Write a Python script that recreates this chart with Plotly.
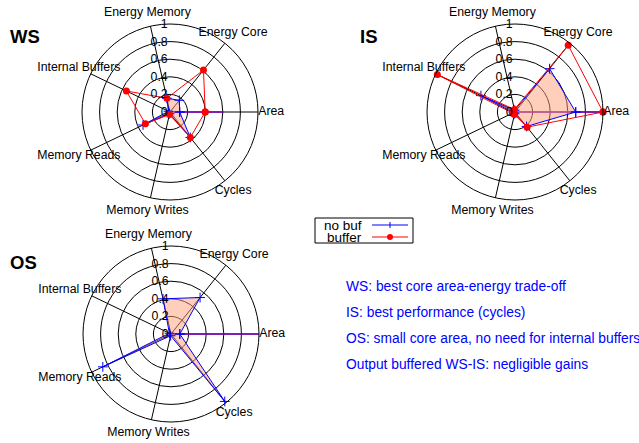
import plotly.graph_objects as go

W, H = 639, 443

categories = ["Area", "Energy Core", "Energy Memory", "Internal Buffers",
              "Memory Reads", "Memory Writes", "Cycles"]
radial_ticks = [0, 0.2, 0.4, 0.6, 0.8, 1.0]
radial_labels = ["0", "0.2", "0.4", "0.6", "0.8", "1"]

ws_nobuf = [0.11, 0.17, 0.16, 0.02, 0.34, 0.02, 0.37]
ws_buffer = [0.40, 0.61, 0.16, 0.55, 0.31, 0.03, 0.37]
is_nobuf = [0.69, 0.63, 0.02, 0.43, 0.02, 0.02, 0.21]
is_buffer = [1.00, 0.97, 0.03, 0.98, 0.03, 0.03, 0.22]
os_nobuf = [0.10, 0.53, 0.41, 0.02, 0.86, 0.02, 0.98]

area_ray = {"WS": 0.6, "IS": 1.0, "OS": 1.0}

panel_titles = ["WS", "IS", "OS"]
notes = ["WS: best core area-energy trade-off",
         "IS: best performance (cycles)",
         "OS: small core area, no need for internal buffers",
         "Output buffered WS-IS: negligible gains"]
legend_names = ["no buf", "buffer"]

BLUE = "#0000ff"
RED = "#ff0000"
PURPLE = "#8000c0"
FILL = "rgba(255,160,122,0.5)"
FONT = "Liberation Sans, Arial, sans-serif"
LBL = 12.3          # axis label font size
RAD = 88            # rim radius in px
LABEL_SCALE = 1.15  # category labels sit just outside the rim


def closed(vals):
    return list(vals) + [vals[0]]


fig = go.Figure()

panels = [
    ("polar", "polar4", "WS", ws_nobuf, ws_buffer, (170, 112)),
    ("polar2", "polar5", "IS", is_nobuf, is_buffer, (515, 112)),
    ("polar3", "polar6", "OS", os_nobuf, None, (171, 334)),
]

for sub, lab_sub, key, nobuf, buf, _ in panels:
    fig.add_trace(go.Scatterpolar(
        r=[0, area_ray[key]], theta=[categories[0], categories[0]],
        mode="lines", line=dict(color=PURPLE, width=1.5),
        subplot=sub, showlegend=False, hoverinfo="skip"))
    fig.add_trace(go.Scatterpolar(
        r=closed(nobuf), theta=closed(categories), mode="lines+markers",
        fill="toself", fillcolor=FILL,
        line=dict(color=BLUE, width=1),
        marker=dict(symbol="cross-thin", size=7, line=dict(color=BLUE, width=1)),
        name=legend_names[0], subplot=sub, showlegend=False))
    if buf is not None:
        fig.add_trace(go.Scatterpolar(
            r=closed(buf), theta=closed(categories), mode="lines+markers",
            line=dict(color=RED, width=1),
            marker=dict(symbol="circle", size=7, color=RED),
            name=legend_names[1], subplot=sub, showlegend=False))
    # category labels on an invisible, slightly larger concentric polar
    fig.add_trace(go.Scatterpolar(
        r=[1] * len(categories), theta=categories, mode="text",
        text=categories, textposition="middle center", cliponaxis=False,
        textfont=dict(size=LBL, color="black", family=FONT),
        subplot=lab_sub, showlegend=False, hoverinfo="skip"))


def dom(cx, cy, rad):
    return dict(x=[(cx - rad) / W, (cx + rad) / W],
                y=[1 - (cy + rad) / H, 1 - (cy - rad) / H])


def polar_cfg(cx, cy):
    return dict(
        domain=dom(cx, cy, RAD),
        bgcolor="rgba(0,0,0,0)",
        angularaxis=dict(type="category", categoryarray=categories,
                         rotation=0, direction="counterclockwise",
                         showgrid=True, gridcolor="black", gridwidth=1,
                         showline=True, linecolor="black", linewidth=1,
                         ticks="", showticklabels=False),
        radialaxis=dict(range=[0, 1], tickvals=radial_ticks, ticktext=radial_labels,
                        angle=90, tickangle=90, side="counterclockwise",
                        showline=False, showgrid=True, gridcolor="black", gridwidth=1,
                        ticks="", tickfont=dict(size=LBL, color="black", family=FONT)),
    )


def label_cfg(cx, cy):
    return dict(
        domain=dom(cx, cy, RAD * LABEL_SCALE),
        bgcolor="rgba(0,0,0,0)",
        angularaxis=dict(type="category", categoryarray=categories,
                         rotation=0, direction="counterclockwise",
                         showgrid=False, showline=False, ticks="", showticklabels=False),
        radialaxis=dict(range=[0, 1], visible=False, showgrid=False,
                        showline=False, showticklabels=False, ticks=""),
    )


annotations = []
title_pos = [(8, 36), (358, 36), (8, 262)]
for t, (x, y) in zip(panel_titles, title_pos):
    annotations.append(dict(text="<b>%s</b>" % t, x=x / W, y=1 - y / H,
                            xref="paper", yref="paper", xanchor="left", yanchor="middle",
                            showarrow=False, font=dict(size=18.5, color="black", family=FONT)))
for i, t in enumerate(notes):
    y = 286 + i * 26.1
    annotations.append(dict(text=t, x=344 / W, y=1 - y / H, xref="paper", yref="paper",
                            xanchor="left", yanchor="middle", showarrow=False,
                            font=dict(size=13.8, color=BLUE, family=FONT)))

# manual legend (text left, key on right, as in the reference)
shapes = [dict(type="rect", xref="paper", yref="paper",
               x0=315 / W, x1=413 / W, y0=1 - 243 / H, y1=1 - 218 / H,
               line=dict(color="black", width=1), fillcolor="white")]
leg_rows = [(legend_names[0], BLUE, 225), (legend_names[1], RED, 237)]
for name, col, y in leg_rows:
    annotations.append(dict(text=name, x=364 / W, y=1 - y / H, xref="paper", yref="paper",
                            xanchor="right", yanchor="middle", showarrow=False,
                            font=dict(size=13.5, color="black", family=FONT)))
    shapes.append(dict(type="line", xref="paper", yref="paper",
                       x0=372 / W, x1=408 / W, y0=1 - y / H, y1=1 - y / H,
                       line=dict(color=col, width=1)))
shapes.append(dict(type="line", xref="paper", yref="paper",
                   x0=390 / W, x1=390 / W, y0=1 - 222 / H, y1=1 - 228 / H,
                   line=dict(color=BLUE, width=1)))
shapes.append(dict(type="circle", xref="paper", yref="paper",
                   x0=387 / W, x1=393 / W, y0=1 - 240 / H, y1=1 - 234 / H,
                   line=dict(color=RED, width=0), fillcolor=RED))

layout_polars = {}
for sub, lab_sub, key, _, _, (cx, cy) in panels:
    layout_polars[sub] = polar_cfg(cx, cy)
    layout_polars[lab_sub] = label_cfg(cx, cy)

fig.update_layout(
    width=W, height=H, margin=dict(l=0, r=0, t=0, b=0),
    paper_bgcolor="white", plot_bgcolor="white",
    font=dict(family=FONT, size=13, color="black"),
    annotations=annotations, shapes=shapes, showlegend=False,
    **layout_polars,
)

fig.write_html("out.html", config={"displayModeBar": False},
               post_script="document.body.style.margin='0';document.body.style.overflow='hidden';")
